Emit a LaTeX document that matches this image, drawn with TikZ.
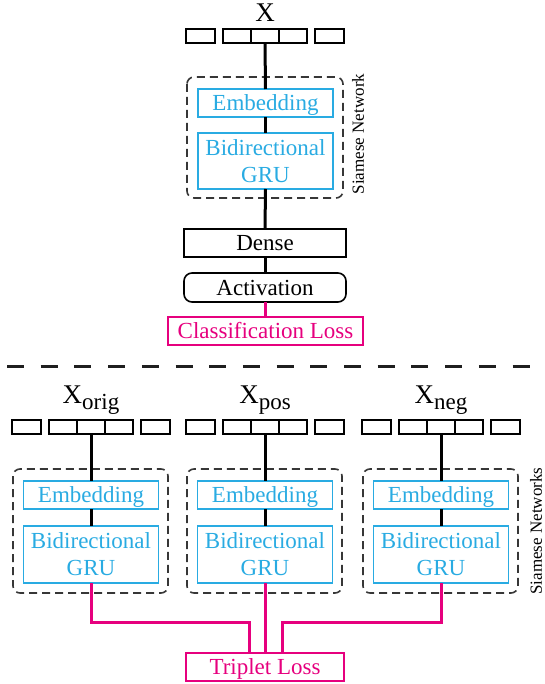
\documentclass[tikz,border=0pt]{standalone}
\usepackage{fontspec}
\setmainfont{Liberation Serif}
\usetikzlibrary{calc}
\definecolor{netcyan}{RGB}{41,171,226}
\definecolor{lossmag}{RGB}{230,0,126}
\definecolor{frame}{RGB}{55,55,55}
\tikzset{
  txt/.style={font=\fontsize{23}{25}\selectfont, text height=15.5pt, text depth=0pt},
  cell/.style={draw, line width=2.2pt, minimum height=14pt, inner sep=0pt, outer sep=0pt},
  layer/.style={draw=netcyan, text=netcyan, line width=1.6pt, txt, inner sep=0pt, outer sep=0pt, align=center},
  grubox/.style={layer, text height=, text depth=},
  plain/.style={draw, line width=1.6pt, txt, inner sep=0pt, outer sep=0pt},
  lossbox/.style={draw=lossmag, text=lossmag, line width=1.6pt, txt, inner sep=0pt, outer sep=0pt},
  siamese/.style={draw=frame, dash pattern=on 8pt off 5pt, line width=1.6pt, rounded corners=7pt},
  link/.style={line width=3pt},
  maglink/.style={draw=lossmag, line width=3pt},
  sidelabel/.style={font=\fontsize{17}{17}\selectfont, rotate=90, inner sep=0pt},
  inlabel/.style={font=\fontsize{27}{27}\selectfont, inner sep=0pt, anchor=base},
}
% one input sequence: three groups of cells centred on #2, top edge at #3
\newcommand\seqrow[3]{%
  \node[cell, minimum width=29pt] at (#2-64.5,#3+7) {};
  \node[cell, minimum width=28pt] at (#2-28,#3+7) {};
  \node[cell, minimum width=28pt] (#1) at (#2,#3+7) {};
  \node[cell, minimum width=28pt] at (#2+28,#3+7) {};
  \node[cell, minimum width=29pt] at (#2+64.5,#3+7) {};
}
\begin{document}
\begin{tikzpicture}[x=1pt, y=-1pt]
\useasboundingbox (0,0) rectangle (545,684);

% ---------- single Siamese network with classification loss ----------
\node[inlabel] (xin) at (265,22) {X};
\seqrow{seqT}{265}{29}
\draw[siamese] (187,77) rectangle (343,198);
\node[layer, minimum width=135pt, minimum height=28pt] (embT) at (265.5,103) {Embedding};
\node[grubox, minimum width=135pt, minimum height=56pt] (gruT) at (265.5,161) {Bidirectional\\[2pt]GRU};
\node[sidelabel] (sT) at (358,134) {Siamese Network};
\node[plain, minimum width=162pt, minimum height=28pt] (dense) at (265,243) {Dense};
\node[plain, rounded corners=8pt, minimum width=162pt, minimum height=29pt] (act) at (265,287.5) {Activation};
\node[lossbox, minimum width=195pt, minimum height=28pt] (closs) at (265.5,331) {Classification Loss};

\draw[link] (seqT.south) -- (embT.north);
\draw[link] (embT.south) -- (gruT.north);
\draw[link] (gruT.south) -- (dense.north);
\draw[link] (dense.south) -- (act.north);
\draw[maglink] (act.south) -- (act.south |- closs.north);

% ---------- separator ----------
\draw[line width=3pt, dash pattern=on 17pt off 16.7pt, color=black!88] (7,366) -- (545,366);

% ---------- three Siamese networks with triplet loss ----------
\foreach \nm/\cx/\sub in {O/91/orig, P/265/pos, N/441/neg}{
  \node[inlabel] (x\nm) at (\cx,403) {X\raisebox{-6pt}{\fontsize{23}{23}\selectfont\sub}};
  \seqrow{seq\nm}{\cx}{420}
  \draw[siamese] (\cx-78,469) rectangle (\cx+77,593);
  \node[layer, minimum width=135pt, minimum height=28pt] (emb\nm) at (\cx,495) {Embedding};
  \node[grubox, minimum width=135pt, minimum height=57pt] (gru\nm) at (\cx,554.5) {Bidirectional\\[2pt]GRU};
  \draw[link] (seq\nm.south) -- (emb\nm.north);
  \draw[link] (emb\nm.south) -- (gru\nm.north);
}
\node[sidelabel] (sB) at (536,531) {Siamese Networks};
\node[lossbox, minimum width=158pt, minimum height=28pt] (trip) at (265,667) {Triplet Loss};

\coordinate (jl) at (249,622);
\coordinate (jr) at (282,622);
\draw[maglink] (gruO.south) |- (jl) -- (jl |- trip.north);
\draw[maglink] (gruP.south) -- (gruP.south |- trip.north);
\draw[maglink] (gruN.south) |- (jr) -- (jr |- trip.north);
\end{tikzpicture}
\end{document}
